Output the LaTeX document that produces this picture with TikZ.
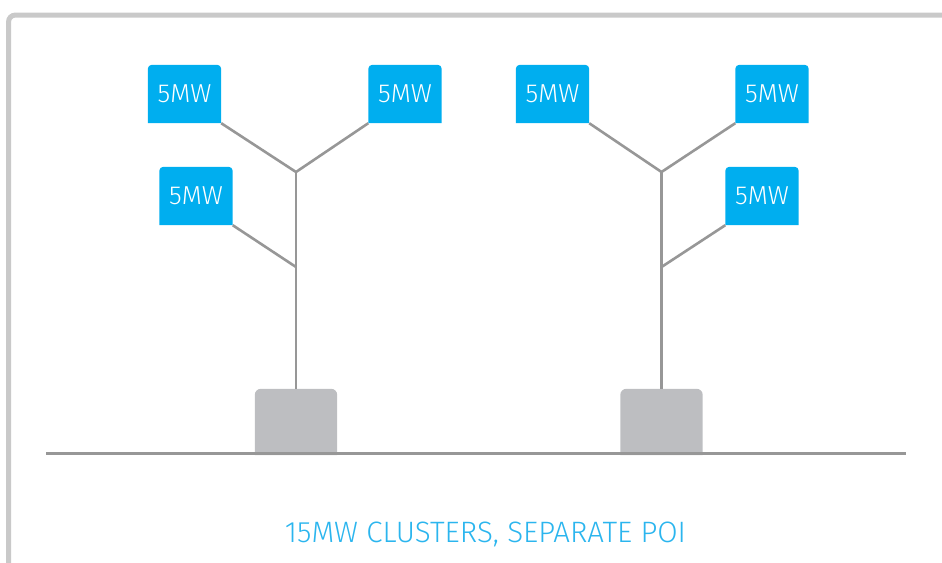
\documentclass[tikz,border=0pt]{standalone}
\usepackage{fontspec}
\IfFontExistsTF{Fira Sans Light}{\setmainfont{Fira Sans Light}}{\setmainfont{Fira Sans}}
\definecolor{blu}{HTML}{00AEEF}
\definecolor{capblu}{HTML}{2BB5EE}
\definecolor{lin}{HTML}{979797}
\definecolor{frm}{HTML}{C9C9C9}
\definecolor{poi}{HTML}{BDBEC1}
\pgfdeclarelayer{background}
\pgfsetlayers{background,main}
\newcommand{\toprnd}[3]{%
  \begin{pgfonlayer}{background}
  \fill[#2] (#1.south west) -- ([yshift=-#3]#1.north west) arc[start angle=180,end angle=90,radius=#3]
    -- ([xshift=-#3]#1.north east) arc[start angle=90,end angle=0,radius=#3] -- (#1.south east) -- cycle;
  \end{pgfonlayer}}
\tikzset{
  mw/.style={minimum width=73pt, minimum height=58pt, inner sep=0pt, text=white, font=\fontsize{26}{29}\selectfont},
  poibox/.style={minimum width=82pt, minimum height=66pt, inner sep=0pt},
  tree/.style={draw=lin, line width=2.6pt},
}
\begin{document}
\begin{tikzpicture}[x=1pt,y=-1pt]
\useasboundingbox (0,0) rectangle (942,562);
% frame
\draw[frm, line width=5pt, rounded corners=7pt] (8.5,570) -- (8.5,15) -- (950,15);
% baseline
\coordinate (L0) at (46,453.5);
\coordinate (L1) at (906,453.5);
\draw[lin, line width=3pt] (L0) -- (L1);
% POI boxes
\node[poibox] (g1) at (296,422) {};
\node[poibox] (g2) at (661.5,422) {};
\toprnd{g1}{poi}{6pt}
\toprnd{g2}{poi}{6pt}
% 5MW boxes
\node[mw] (a) at (184.5,94) {5MW};
\node[mw] (b) at (405,94) {5MW};
\node[mw] (c) at (196,196) {5MW};
\node[mw] (d) at (552.5,94) {5MW};
\node[mw] (e) at (772,94) {5MW};
\node[mw] (f) at (762,196) {5MW};
\toprnd{a}{blu}{4pt}
\toprnd{b}{blu}{4pt}
\toprnd{c}{blu}{4pt}
\toprnd{d}{blu}{4pt}
\toprnd{e}{blu}{4pt}
\toprnd{f}{blu}{4pt}
% junctions
\coordinate (j1) at (296,172);
\coordinate (k1) at (296,267);
\coordinate (j2) at (661.5,172);
\coordinate (k2) at (661.5,267);
\draw[tree] (a.south east) -- (j1);
\draw[tree] (b.south west) -- (j1);
\draw[tree] (c.south east) -- (k1);
\draw[tree] (j1) -- (g1.north);
\draw[tree] (d.south east) -- (j2);
\draw[tree] (e.south west) -- (j2);
\draw[tree] (f.south west) -- (k2);
\draw[tree] (j2) -- (g2.north);
% caption
\node[text=capblu, font=\fontsize{29.5}{32}\selectfont, inner sep=0pt] (cap) at (485.5,534) {15MW CLUSTERS, SEPARATE POI};
\end{tikzpicture}
\end{document}
